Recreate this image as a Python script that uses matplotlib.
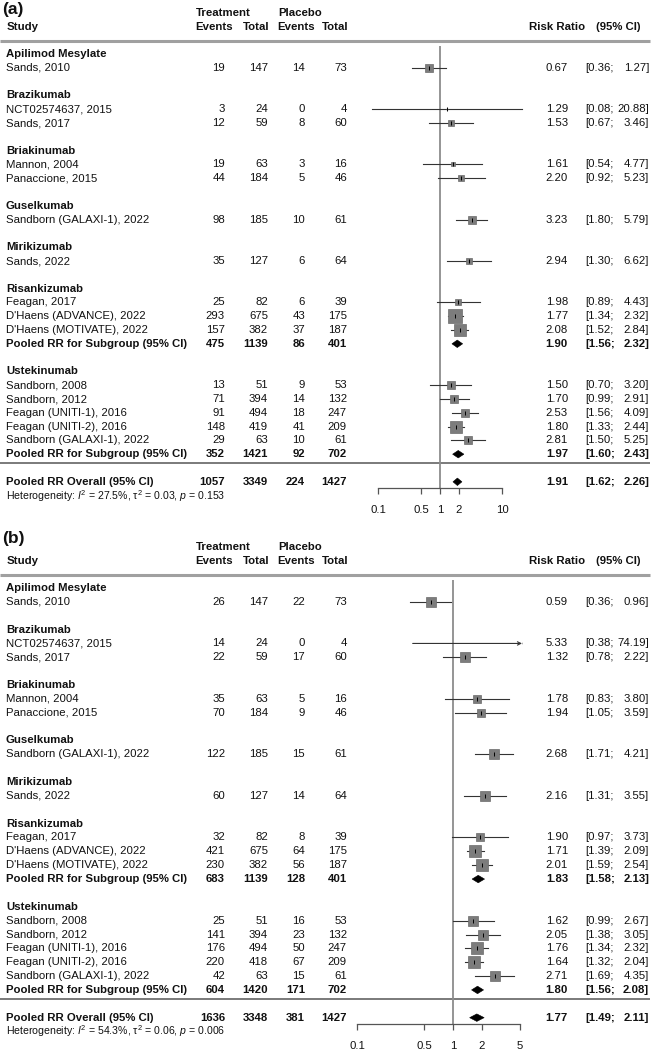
import numpy as np
import matplotlib
matplotlib.use("Agg")
import matplotlib.pyplot as plt
from matplotlib.ticker import NullLocator, FixedLocator, FixedFormatter

plt.rcParams["font.family"] = ["Liberation Sans", "DejaVu Sans"]
plt.rcParams["mathtext.fontset"] = "custom"
plt.rcParams["mathtext.rm"] = "Liberation Sans"
plt.rcParams["mathtext.it"] = "Liberation Sans:italic"

# ============================================================
# DATA
# ============================================================
studies = ["Sands, 2010", "NCT02574637, 2015", "Sands, 2017", "Mannon, 2004",
           "Panaccione, 2015", "Sandborn (GALAXI-1), 2022", "Sands, 2022",
           "Feagan, 2017", "D'Haens (ADVANCE), 2022", "D'Haens (MOTIVATE), 2022",
           "Sandborn, 2008", "Sandborn, 2012", "Feagan (UNITI-1), 2016",
           "Feagan (UNITI-2), 2016", "Sandborn (GALAXI-1), 2022"]
drug = ["Apilimod Mesylate", "Brazikumab", "Brazikumab", "Briakinumab",
        "Briakinumab", "Guselkumab", "Mirikizumab", "Risankizumab",
        "Risankizumab", "Risankizumab", "Ustekinumab", "Ustekinumab",
        "Ustekinumab", "Ustekinumab", "Ustekinumab"]
pool_groups = ["Risankizumab", "Ustekinumab"]

# panel (a)
t_ev_a  = [19, 3, 12, 19, 44, 98, 35, 25, 293, 157, 13, 71, 91, 148, 29]
t_tot_a = [147, 24, 59, 63, 184, 185, 127, 82, 675, 382, 51, 394, 494, 419, 63]
p_ev_a  = [14, 0, 8, 3, 5, 10, 6, 6, 43, 37, 9, 14, 18, 41, 10]
p_tot_a = [73, 4, 60, 16, 46, 61, 64, 39, 175, 187, 53, 132, 247, 209, 61]
rr_a = [0.67, 1.29, 1.53, 1.61, 2.20, 3.23, 2.94, 1.98, 1.77, 2.08, 1.50, 1.70, 2.53, 1.80, 2.81]
lo_a = [0.36, 0.08, 0.67, 0.54, 0.92, 1.80, 1.30, 0.89, 1.34, 1.52, 0.70, 0.99, 1.56, 1.33, 1.50]
hi_a = [1.27, 20.88, 3.46, 4.77, 5.23, 5.79, 6.62, 4.43, 2.32, 2.84, 3.20, 2.91, 4.09, 2.44, 5.25]
weight_a = [5.6, 0.1, 3.1, 1.9, 3.1, 6.1, 4.0, 3.5, 17.9, 15.1, 5.6, 7.3, 6.1, 15.1, 5.6]
pool_t_ev_a, pool_t_tot_a = [475, 352], [1139, 1421]
pool_p_ev_a, pool_p_tot_a = [86, 92], [401, 702]
pool_rr_a, pool_lo_a, pool_hi_a = [1.90, 1.97], [1.56, 1.60], [2.32, 2.43]
overall_a = [1057, 3349, 224, 1427]
overall_ci_a = [1.91, 1.62, 2.26]
het_a = r"Heterogeneity: $\mathit{I}^2$ = 27.5%, τ${}^2$ = 0.03, $\mathit{p}$ = 0.153"

# panel (b)
t_ev_b  = [26, 14, 22, 35, 70, 122, 60, 32, 421, 230, 25, 141, 176, 220, 42]
t_tot_b = [147, 24, 59, 63, 184, 185, 127, 82, 675, 382, 51, 394, 494, 418, 63]
p_ev_b  = [22, 0, 17, 5, 9, 15, 14, 8, 64, 56, 16, 23, 50, 67, 15]
p_tot_b = [73, 4, 60, 16, 46, 61, 64, 39, 175, 187, 53, 132, 247, 209, 61]
rr_b = [0.59, 5.33, 1.32, 1.78, 1.94, 2.68, 2.16, 1.90, 1.71, 2.01, 1.62, 2.05, 1.76, 1.64, 2.71]
lo_b = [0.36, 0.38, 0.78, 0.83, 1.05, 1.71, 1.31, 0.97, 1.39, 1.59, 0.99, 1.38, 1.34, 1.32, 1.69]
hi_b = [0.96, 74.19, 2.22, 3.80, 3.59, 4.21, 3.55, 3.73, 2.09, 2.54, 2.67, 3.05, 2.32, 2.04, 4.35]
weight_b = [7.7, 0.1, 6.2, 4.0, 5.3, 7.3, 5.7, 3.8, 9.0, 9.0, 7.7, 6.2, 9.5, 10.9, 7.7]
pool_t_ev_b, pool_t_tot_b = [683, 604], [1139, 1420]
pool_p_ev_b, pool_p_tot_b = [128, 171], [401, 702]
pool_rr_b, pool_lo_b, pool_hi_b = [1.83, 1.80], [1.58, 1.56], [2.13, 2.08]
overall_b = [1636, 3348, 381, 1427]
overall_ci_b = [1.77, 1.49, 2.11]
het_b = r"Heterogeneity: $\mathit{I}^2$ = 54.3%, τ${}^2$ = 0.06, $\mathit{p}$ = 0.006"

ticks_a = [0.1, 0.5, 1, 2, 10]
ticks_b = [0.1, 0.5, 1, 2, 5]

# ============================================================
# LAYOUT / STYLE
# ============================================================
W, H = 652, 1050
FS = 8.2
TXT = "#111111"
X_STUDY, X_TEV, X_TTOT, X_PEV, X_PTOT = 6, 225, 268, 305, 347
X_RR, X_CILO, X_CIHI = 568, 585, 649

fig = plt.figure(figsize=(W / 100, H / 100), dpi=100)


def draw_panel(label, label_row, y0, dy, top_px, axis_px, fx, xlim, ticks,
               t_ev, t_tot, p_ev, p_tot, rr, lo, hi, weight, smax,
               pool_t_ev, pool_t_tot, pool_p_ev, pool_p_tot,
               pool_rr, pool_lo, pool_hi, overall, overall_ci, het):
    r_top = (top_px - y0) / dy
    r_bot = (axis_px - y0) / dy
    bottom = 1 - axis_px / H
    height = (axis_px - top_px) / H

    axt = fig.add_axes([0, bottom, 1, height])
    axt.set_xlim(0, W)
    axt.set_ylim(r_bot, r_top)
    axt.axis("off")

    axf = fig.add_axes([fx[0] / W, bottom, (fx[1] - fx[0]) / W, height], sharey=axt)
    axf.set_xscale("log")
    axf.set_xlim(*xlim)
    axf.set_facecolor("none")
    for s in ["left", "right", "top"]:
        axf.spines[s].set_visible(False)
    axf.spines["bottom"].set_bounds(ticks[0], ticks[-1])
    axf.spines["bottom"].set_color("#555555")
    axf.spines["bottom"].set_linewidth(0.9)
    axf.xaxis.set_major_locator(FixedLocator(ticks))
    axf.xaxis.set_major_formatter(FixedFormatter([f"{t:g}" for t in ticks]))
    axf.xaxis.set_minor_locator(NullLocator())
    axf.tick_params(axis="x", direction="out", length=4, width=0.9, color="#555555",
                    labelsize=FS, labelcolor=TXT, pad=8)
    axf.tick_params(axis="y", left=False, labelleft=False)

    def row_text(r, name, vals, ci, bold):
        fw = "bold" if bold else "normal"
        axt.text(X_STUDY, r, name, ha="left", va="center", fontsize=FS, color=TXT, fontweight=fw)
        if vals is not None:
            for x, v in zip([X_TEV, X_TTOT, X_PEV, X_PTOT], vals):
                axt.text(x, r, str(v), ha="right", va="center", fontsize=FS, color=TXT, fontweight=fw)
        if ci is not None:
            axt.text(X_RR, r, f"{ci[0]:.2f}", ha="right", va="center", fontsize=FS, color=TXT, fontweight=fw)
            axt.text(X_CILO, r, f"[{ci[1]:.2f};", ha="left", va="center", fontsize=FS, color=TXT, fontweight=fw)
            axt.text(X_CIHI, r, f"{ci[2]:.2f}]", ha="right", va="center", fontsize=FS, color=TXT, fontweight=fw)

    def diamond(r, est, l, h):
        axf.fill([l, est, h, est], [r, r - 0.27, r, r + 0.27], color="black", lw=0.4, zorder=3)

    wmax = max(weight)
    r = 0
    for g in dict.fromkeys(drug):
        row_text(r, g, None, None, True)
        r += 1
        for i, d in enumerate(drug):
            if d != g:
                continue
            row_text(r, studies[i], [t_ev[i], t_tot[i], p_ev[i], p_tot[i]],
                     [rr[i], lo[i], hi[i]], False)
            if hi[i] > xlim[1]:
                axf.annotate("", xy=(xlim[1], r), xytext=(lo[i], r),
                             arrowprops=dict(arrowstyle="->", lw=0.8, color="#333333",
                                             shrinkA=0, shrinkB=0, mutation_scale=6))
            else:
                axf.plot([lo[i], hi[i]], [r, r], color="#333333", lw=0.8, zorder=1)
            side = smax * np.sqrt(weight[i] / wmax) * 0.72
            axf.plot(rr[i], r, marker="s", ms=side, mfc="#7c7c7c", mec="#6a6a6a",
                     mew=0.5, ls="none", zorder=2)
            axf.plot(rr[i], r, marker="|", ms=2.5, mew=0.7, color="black", ls="none", zorder=3)
            r += 1
        if g in pool_groups:
            k = pool_groups.index(g)
            row_text(r, "Pooled RR for Subgroup (95% CI)",
                     [pool_t_ev[k], pool_t_tot[k], pool_p_ev[k], pool_p_tot[k]],
                     [pool_rr[k], pool_lo[k], pool_hi[k]], True)
            diamond(r, pool_rr[k], pool_lo[k], pool_hi[k])
            r += 1
        r += 1

    # separator and overall
    axt.hlines(r - 1.35, 0, 650, color="#707070", lw=1.3)
    row_text(r, "Pooled RR Overall (95% CI)", overall, overall_ci, True)
    diamond(r, *overall_ci)
    axt.text(X_STUDY, r + 1, het, ha="left", va="center", fontsize=7.6, color=TXT)

    # reference line
    axf.vlines(1, -0.55, r_bot, color="#8c8c8c", lw=1.3, zorder=0)

    # header
    axt.hlines(r_top, 0, 650, color="#a0a0a0", lw=2.2, clip_on=False)
    axt.text(2, label_row, label, ha="left", va="center", fontsize=12.5, fontweight="bold", color=TXT)
    hr1, hr2 = -2.95, -1.98
    axt.text(196, hr1, "Treatment", ha="left", va="center", fontsize=FS, fontweight="bold", color=TXT)
    axt.text(278, hr1, "Placebo", ha="left", va="center", fontsize=FS, fontweight="bold", color=TXT)
    axt.text(7, hr2, "Study", ha="left", va="center", fontsize=FS, fontweight="bold", color=TXT)
    for x, s in zip([214, 256, 296, 335], ["Events", "Total", "Events", "Total"]):
        axt.text(x, hr2, s, ha="center", va="center", fontsize=FS, fontweight="bold", color=TXT)
    axt.text(529, hr2, "Risk Ratio", ha="left", va="center", fontsize=FS, fontweight="bold", color=TXT)
    axt.text(596, hr2, "(95% CI)", ha="left", va="center", fontsize=FS, fontweight="bold", color=TXT)


draw_panel("(a)", -3.2, 54, 13.8, 41, 488, (360, 530), (0.0513, 28.3), ticks_a,
           t_ev_a, t_tot_a, p_ev_a, p_tot_a, rr_a, lo_a, hi_a, weight_a, 13.8,
           pool_t_ev_a, pool_t_tot_a, pool_p_ev_a, pool_p_tot_a,
           pool_rr_a, pool_lo_a, pool_hi_a, overall_a, overall_ci_a, het_a)

draw_panel("(b)", -3.6, 588, 13.86, 575, 1024, (340, 522), (0.0665, 5.23), ticks_b,
           t_ev_b, t_tot_b, p_ev_b, p_tot_b, rr_b, lo_b, hi_b, weight_b, 12.6,
           pool_t_ev_b, pool_t_tot_b, pool_p_ev_b, pool_p_tot_b,
           pool_rr_b, pool_lo_b, pool_hi_b, overall_b, overall_ci_b, het_b)

plt.savefig("out.png", dpi=100)
